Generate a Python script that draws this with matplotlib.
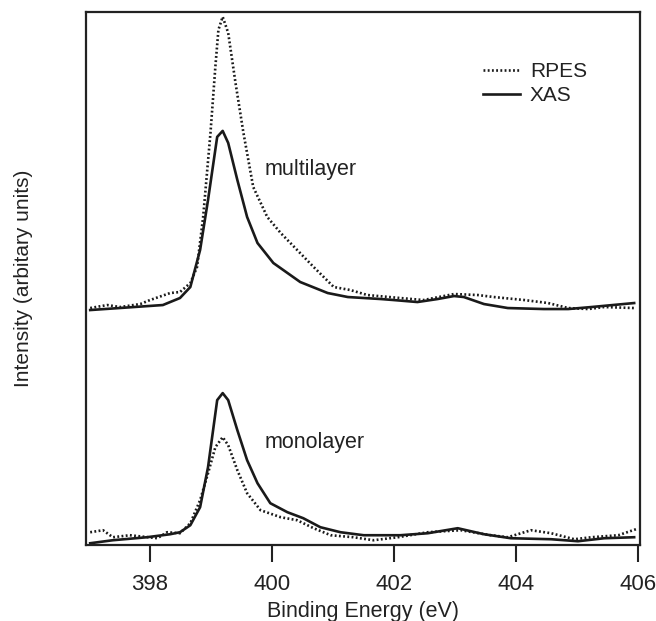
"""
RPES vs XAS at the N 1s edge, multilayer and monolayer.
Values read off the reference figure (offset stacked, arbitrary units).
"""
import matplotlib
matplotlib.use("Agg")
import matplotlib.pyplot as plt

plt.rcParams["font.family"] = ["Liberation Sans", "DejaVu Sans"]

# multilayer, XAS (solid)
ml_xas_e = [397.02, 398.21, 398.49, 398.66, 398.82, 398.95, 399.10, 399.19, 399.28,
            399.43, 399.59, 399.76, 400.02, 400.46, 400.91, 401.24, 401.78, 401.99,
            402.38, 402.71, 402.98, 403.14, 403.47, 403.86, 404.45, 404.85, 405.23, 405.93]
ml_xas_i = [235, 240, 247, 258, 295, 345, 408, 414, 402,
            365, 328, 302, 282, 263, 252, 248, 246, 245,
            243, 246, 249, 248, 241, 237, 236, 236, 238, 242]

# multilayer, RPES (dotted)
ml_rpes_e = [397.02, 397.30, 397.51, 397.84, 398.00, 398.33, 398.49, 398.66, 398.77,
             398.87, 398.99, 399.07, 399.12, 399.19, 399.28, 399.40, 399.53, 399.69,
             399.92, 400.14, 400.41, 400.68, 401.01, 401.28, 401.56, 402.10, 402.48,
             402.98, 403.37, 403.63, 404.13, 404.52, 404.85, 405.18, 405.44, 405.93]
ml_rpes_i = [237, 240, 238, 241, 245, 252, 253, 262, 278,
             328, 412, 478, 515, 528, 512, 462, 412, 358,
             328, 312, 295, 278, 258, 255, 250, 247, 245,
             251, 250, 248, 245, 242, 237, 236, 238, 237]

# monolayer, XAS (solid)
mono_xas_e = [397.02, 397.39, 397.95, 398.33, 398.49, 398.66, 398.82, 398.95, 399.10,
              399.19, 399.28, 399.43, 399.59, 399.76, 399.97, 400.25, 400.51, 400.79,
              401.12, 401.50, 401.78, 402.10, 402.55, 403.04, 403.47, 403.91, 404.57,
              405.01, 405.44, 405.93]
mono_xas_i = [2, 5, 8, 11, 13, 20, 38, 78, 145,
              152, 145, 115, 85, 62, 42, 33, 27, 18,
              13, 10, 10, 10, 12, 17, 11, 7, 6,
              4, 7, 8]

# monolayer, RPES (dotted)
mono_rpes_e = [397.02, 397.23, 397.39, 397.67, 398.12, 398.28, 398.49, 398.66, 398.82,
               398.95, 399.07, 399.19, 399.28, 399.43, 399.59, 399.81, 400.14, 400.41,
               400.68, 400.96, 401.33, 401.66, 402.06, 402.55, 403.09, 403.58, 403.86,
               404.24, 404.57, 404.95, 405.23, 405.67, 405.96]
mono_rpes_i = [13, 15, 8, 10, 7, 13, 12, 22, 45,
               72, 98, 108, 100, 75, 52, 35, 28, 25,
               17, 10, 8, 5, 8, 13, 15, 10, 8,
               15, 12, 6, 8, 10, 16]

ink = "#222222"
line_kw = dict(color="#1a1a1a", lw=1.9)
dots = (0, (0.7, 0.9))

fig = plt.figure(figsize=(6.56, 6.21), dpi=100)
ax = fig.add_axes([0.131, 0.122, 0.845, 0.859])

ax.plot(ml_rpes_e, ml_rpes_i, ls=dots, label="RPES", **line_kw)
ax.plot(ml_xas_e, ml_xas_i, ls="-", label="XAS", **line_kw)
ax.plot(mono_rpes_e, mono_rpes_i, ls=dots, **line_kw)
ax.plot(mono_xas_e, mono_xas_i, ls="-", **line_kw)

ax.text(399.88, 375, "multilayer", fontsize=15.5, color=ink, va="center")
ax.text(399.88, 103, "monolayer", fontsize=15.5, color=ink, va="center")

ax.set_xlim(396.95, 406.03)
ax.set_ylim(0, 533)
ax.set_xticks([398, 400, 402, 404, 406])
ax.set_yticks([])
ax.tick_params(axis="x", direction="out", length=12, width=1.5, pad=9,
               labelsize=16, colors=ink)
for s in ax.spines.values():
    s.set_linewidth(1.6)
    s.set_color(ink)

ax.set_xlabel("Binding Energy (eV)", fontsize=15.5, color=ink, labelpad=4)
ax.set_ylabel("Intensity (arbitary units)", fontsize=15, color=ink, labelpad=38)

ax.legend(loc="upper left", bbox_to_anchor=(0.717, 0.905), frameon=False,
          fontsize=15, handlelength=1.75, handletextpad=0.48, labelspacing=0.22,
          borderpad=0, borderaxespad=0, labelcolor=ink)

fig.savefig("out.png", dpi=100)
plt.close(fig)
